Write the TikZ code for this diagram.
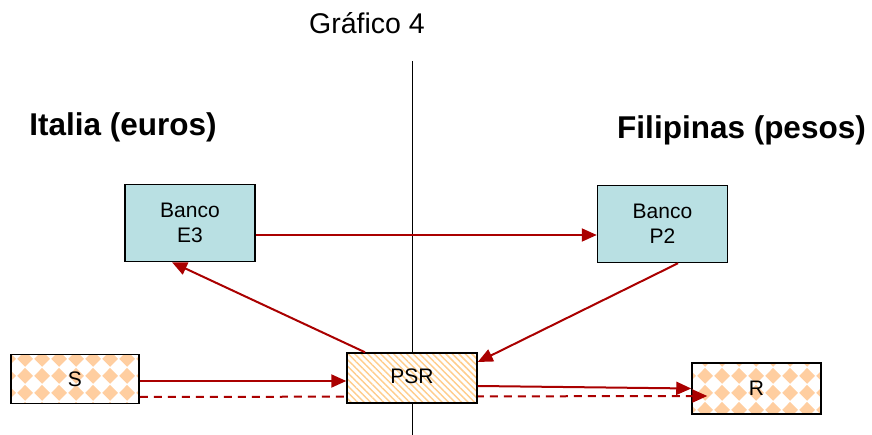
\documentclass[tikz,border=0pt]{standalone}
\usepackage{fontspec}
\setmainfont{Liberation Sans}
\usetikzlibrary{arrows.meta,patterns,patterns.meta}
\pgfdeclarepattern{
  name=diamondcheck,
  type=uncolored,
  bottom left={\pgfpoint{0pt}{0pt}},
  top right={\pgfpoint{17pt}{17pt}},
  tile size={\pgfpoint{17pt}{17pt}},
  code={
    \pgfpathmoveto{\pgfpoint{8.5pt}{0.2pt}}
    \pgfpathlineto{\pgfpoint{16.8pt}{8.5pt}}
    \pgfpathlineto{\pgfpoint{8.5pt}{16.8pt}}
    \pgfpathlineto{\pgfpoint{0.2pt}{8.5pt}}
    \pgfpathclose
    \pgfusepath{fill}
  }
}
\definecolor{banco}{RGB}{185,224,227}
\definecolor{diam}{RGB}{255,206,160}
\definecolor{hatch}{RGB}{255,205,140}
\definecolor{arrred}{RGB}{170,0,0}
\tikzset{
  box/.style={draw=black, line width=1.5pt, inner sep=0pt, font=\fontsize{21}{25}\selectfont, align=center},
  bancobox/.style={box, fill=banco, minimum width=130pt, minimum height=77pt},
  checkbox/.style={box, preaction={fill=white}, pattern=diamondcheck, pattern color=diam, minimum width=128pt, minimum height=49pt},
  hatchbox/.style={box, preaction={fill=white}, pattern={Lines[angle=-45,distance=4.6pt,line width=1.5pt]}, pattern color=hatch, minimum width=130pt, minimum height=50pt},
  arr/.style={draw=arrred, line width=2pt, -{Triangle[length=15pt,width=13pt]}},
  darr/.style={arr, dash pattern=on 8pt off 6pt},
  heading/.style={font=\fontsize{31.5}{36}\selectfont\bfseries, inner sep=0pt},
  title/.style={font=\fontsize{28.5}{32}\selectfont, inner sep=0pt}
}
\begin{document}
\begin{tikzpicture}[x=1pt,y=-1pt]
\useasboundingbox (0,0) rectangle (872,435);
\fill[white] (0,0) rectangle (872,435);
% title and headings
\node[title] (t) at (367,23) {Gráfico 4};
\node[heading] (it) at (123,127) {Italia (euros)};
\node[heading] (fi) at (741.5,130) {Filipinas (pesos)};
% divider
\coordinate (vtop) at (412.5,61);
\coordinate (vbot) at (412.5,435);
\draw[black, line width=1.6pt] (vtop) -- (vbot);
% boxes
\node[bancobox] (E3) at (190,223) {Banco\\E3};
\node[bancobox] (P2) at (662.5,224) {Banco\\P2};
\node[checkbox] (S) at (75,379) {S};
\node[checkbox, minimum width=129pt, minimum height=51pt] (R) at (756.5,388.5) {R};
% dashed arrow (behind PSR)
\draw[darr] ([yshift=-18pt]S.east) -- ([xshift=16pt,yshift=-7.5pt]R.west);
\node[hatchbox] (PSR) at (412,378) {\raisebox{3pt}{PSR}};
% arrows
\draw[arr] ([yshift=-12pt]E3.east) -- ([yshift=-11pt]P2.west);
\draw[arr] ([xshift=-47pt]PSR.north) -- ([xshift=-18pt]E3.south);
\draw[arr] ([xshift=15.5pt]P2.south) -- ([yshift=16pt]PSR.east);
\draw[arr] ([yshift=-2pt]S.east) -- ([yshift=-3pt]PSR.west);
\draw[arr] ([yshift=-8pt]PSR.east) -- ([yshift=0pt]R.west);
\end{tikzpicture}
\end{document}
